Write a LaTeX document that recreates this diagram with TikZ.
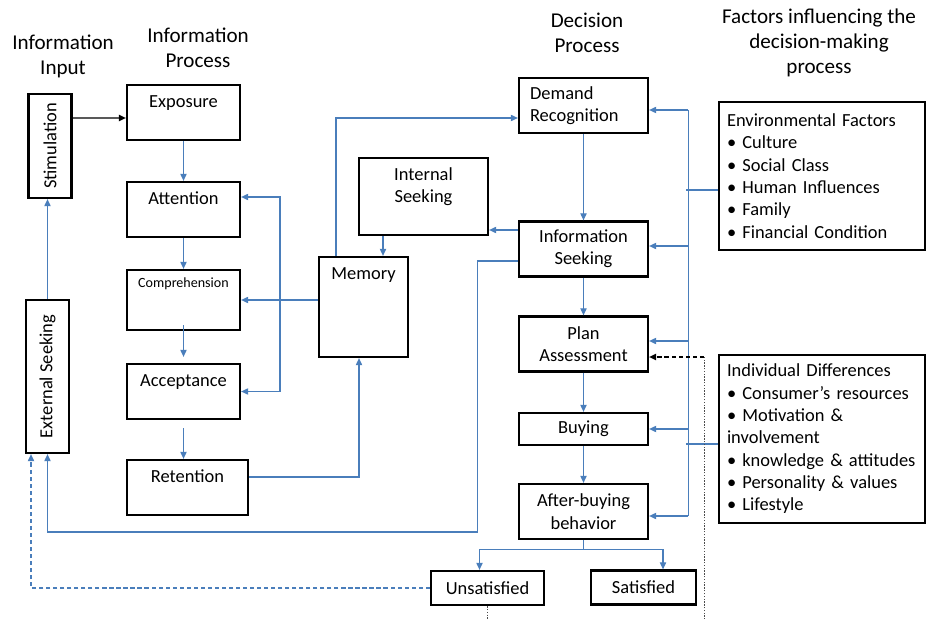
\documentclass[tikz,border=0pt]{standalone}
\usepackage{fontspec}
\setmainfont{Carlito}
\usetikzlibrary{arrows.meta,positioning,calc}
\definecolor{lnblue}{HTML}{4A7EBB}

\begin{document}
\begin{tikzpicture}[
  box/.style={rectangle,draw=black,line width=1.3pt,fill=white,
              minimum width=2.26cm,minimum height=1.1cm,inner sep=2pt,
              font=\fontsize{10.5}{12.7}\selectfont,align=center},
  vbox/.style={box,rotate=90,minimum height=0.86cm},
  list/.style={box,align=left,text width=3.8cm,inner xsep=0.16cm},
  head/.style={font=\fontsize{12}{14.2}\selectfont,align=center},
  arr/.style={-{Triangle[length=4pt,width=3.6pt]},draw=lnblue,line width=0.6pt},
  wire/.style={draw=lnblue,line width=0.6pt},
  arrd/.style={arr,dash pattern=on 2.4pt off 1.6pt},
  arrk/.style={-{Triangle[length=4pt,width=3.6pt]},draw=black,line width=0.7pt}
]
\useasboundingbox (0,0) rectangle (18.54,-12.36);

% Column headers
\node[head] (h1) at (1.26,-1.12)  {Information\\Input};
\node[head] (h2) at (3.96,-0.95)  {Information\\Process};
\node[head] (h3) at (11.74,-0.65) {Decision\\Process};
\node[head] (h4) at (16.38,-0.86) {Factors influencing the\\decision-making\\process};

% Information input (rotated boxes: south = right side, west = bottom)
\node[vbox,minimum width=2.08cm] (stim) at (1.00,-2.92) {Stimulation};
\node[vbox,minimum width=3.06cm] (ext)  at (0.95,-7.53) {External Seeking};

% Information process column
\node[box] (expo) at (3.67,-2.25) {Exposure\\\mbox{}};
\node[box] (att)  at (3.67,-4.19) {Attention\\\mbox{}};
\node[box,minimum height=1.2cm,font=\fontsize{8}{9.7}\selectfont]
      (comp) at (3.67,-6.00) {Comprehension\\\mbox{}\\\mbox{}};
\node[box] (acc)  at (3.67,-7.83) {Acceptance\\\mbox{}};
\node[box,minimum width=2.42cm] (ret) at (3.75,-9.75) {Retention\\\mbox{}};

% Memory and internal seeking
\node[box,minimum width=1.78cm,minimum height=2.0cm]
      (mem) at (7.27,-6.14) {Memory\\\mbox{}\\\mbox{}\\\mbox{}};
\node[box,minimum width=2.58cm,minimum height=1.54cm]
      (intsk) at (8.47,-3.93) {Internal\\Seeking\\\mbox{}};

% Decision process column
\node[box,minimum width=2.58cm,align=left,text width=2.14cm,inner xsep=0.22cm]
      (dem) at (11.67,-2.11) {Demand\\Recognition};
\node[box,minimum width=2.58cm] (infsk) at (11.67,-4.98)  {Information\\Seeking};
\node[box,minimum width=2.58cm] (plan)  at (11.67,-6.88)  {Plan\\Assessment};
\node[box,minimum width=2.58cm,minimum height=0.64cm] (buy) at (11.67,-8.58) {Buying};
\node[box,minimum width=2.58cm] (aft)   at (11.67,-10.23) {After-buying\\behavior};

% Outcomes
\node[box,minimum height=0.68cm] (unsat) at (9.75,-11.76) {Unsatisfied};
\node[box,minimum width=2.10cm,minimum height=0.68cm] (sat) at (12.87,-11.75) {Satisfied};

% Influencing factors
\node[list,minimum height=2.96cm] (env) at (16.44,-3.52)
  {Environmental Factors\\• Culture\\• Social Class\\• Human Influences\\• Family\\• Financial Condition};
\node[list,minimum height=3.36cm] (indiv) at (16.44,-8.78)
  {Individual Differences\\• Consumer’s resources\\• Motivation \&\\involvement\\• knowledge \& attitudes\\• Personality \& values\\• Lifestyle};

% Input to process
\draw[arrk] ([yshift=0.56cm]stim.south) -- ([yshift=-0.11cm]expo.west);
\draw[arr] (ext.east) -- (ext.east |- stim.west);

% Process chain
\draw[arr] (expo) -- (att);
\draw[arr] (att) -- (comp);
\draw[arr,shorten <=-0.12cm,shorten >=0.12cm] (comp) -- (acc);
\draw[arr,shorten <=0.16cm] (acc.south) -- (acc.south |- ret.north);

% Memory links
\coordinate (fork) at (5.60,-6.00);
\draw[arr] (mem.west |- comp.east) -- (comp.east);
\draw[arr] (fork) |- ([yshift=0.25cm]att.east);
\draw[arr] (fork) |- (acc.east);
\draw[arr] ([yshift=0.21cm]ret.east) -| ([xshift=-0.09cm]mem.south);
\draw[arr] ([xshift=-0.55cm]mem.north) |- ([yshift=-0.25cm]dem.west);
\draw[arr] ([xshift=-0.81cm]intsk.south) -- ([xshift=0.39cm]mem.north);
\draw[arr] ([yshift=0.38cm]infsk.west) -- ([yshift=-0.67cm]intsk.east);

% Decision chain
\draw[arr] (dem) -- (infsk);
\draw[arr] (infsk) -- (plan);
\draw[arr] (plan) -- (buy);
\draw[arr] (buy) -- (aft);
\draw[arr] (aft.south) -- ++(0,-0.18) -| ([xshift=-0.16cm]unsat.north);
\draw[arr] (aft.south) -- ++(0,-0.18) -| ([xshift=0.39cm]sat.north);

% Feedback to external seeking
\draw[arr] ([yshift=-0.24cm]infsk.west) -- ++(-0.8,0) -- ++(0,-5.42) -| (ext.west);
\draw[arrd] (unsat.west) -| ([xshift=-0.33cm]ext.west);

% Factor bus
\draw[wire] ([shift={(0.78,-0.09)}]dem.east) -- ([shift={(0.78,-0.09)}]aft.east);
\foreach \t/\s in {dem/-0.09,infsk/0.06,plan/0.06,buy/0,aft/-0.09}
  \draw[arr] ([shift={(0.78,\s)}]\t.east) -- ([yshift=\s cm]\t.east);
\draw[wire] ([yshift=-0.28cm]env.west) -- ++(-0.64,0);
\draw[wire] ([yshift=-0.10cm]indiv.west) -- ++(-0.64,0);

% Unsatisfied back to plan assessment
\coordinate (fb) at (14.08,-7.14);
\draw[black!70,line width=0.5pt,dash pattern=on 0.8pt off 0.8pt]
  (unsat.south) -- ++(0,-0.5) -| (fb);
\draw[arrk,dash pattern=on 2.5pt off 1.5pt] (fb) -- ([yshift=-0.26cm]plan.east);

\end{tikzpicture}
\end{document}
